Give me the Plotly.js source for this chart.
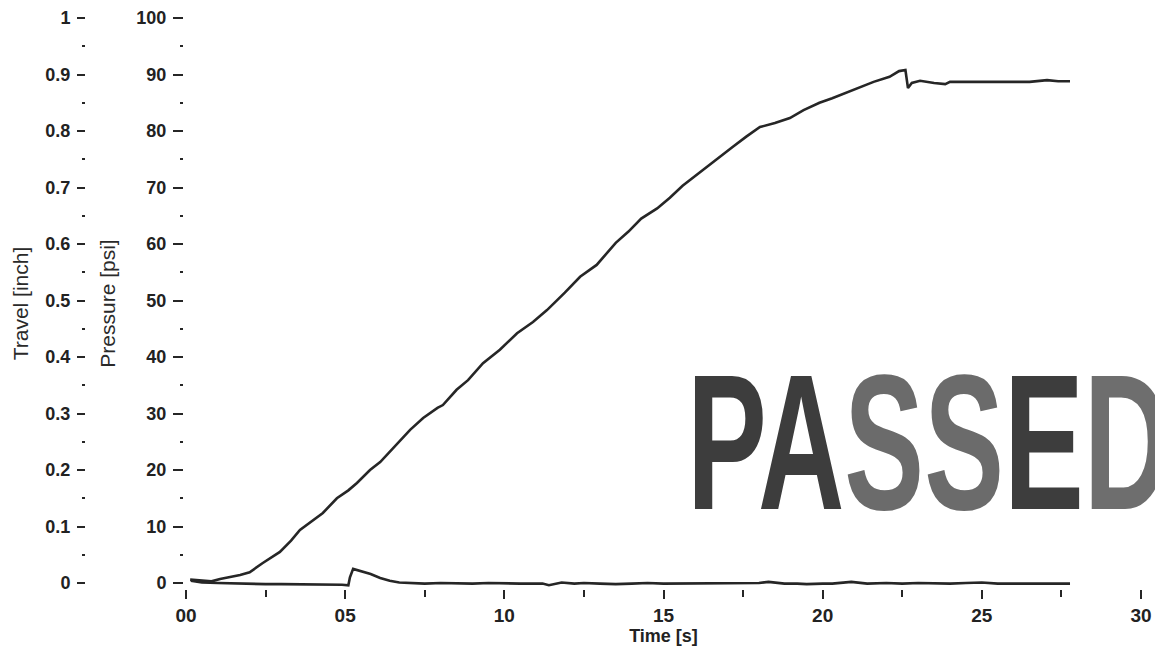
<!DOCTYPE html>
<html>
<head>
<meta charset="utf-8">
<script src="https://cdn.plot.ly/plotly-3.0.1.min.js"></script>
<style>
  html, body { margin: 0; padding: 0; background: #fff; }
  #chart { width: 1155px; height: 658px; }
  .annotation-text { transform-box: fill-box; transform-origin: left center; transform: scaleX(0.62); }
</style>
</head>
<body>
<div id="chart"></div>
<script>
// ---- data ----
const pressureTime = [0.13, 0.5, 0.8, 1.07, 1.4, 1.7, 2.0, 2.4, 2.95, 3.3, 3.58, 4.0, 4.3, 4.74, 5.1, 5.37, 5.78, 6.1, 6.4, 6.7, 7.04, 7.45, 7.9, 8.07, 8.5, 8.86, 9.33, 9.86, 10.4, 10.9, 11.34, 11.9, 12.38, 12.9, 13.5, 13.9, 14.3, 14.8, 15.2, 15.6, 16.1, 16.6, 17.18, 17.6, 18.03, 18.5, 18.97, 19.4, 19.9, 20.3, 20.77, 21.2, 21.6, 22.1, 22.4, 22.6, 22.68, 22.8, 23.06, 23.5, 23.85, 24.0, 24.94, 25.7, 26.5, 27.05, 27.4, 27.77];
const pressurePsi  = [0.6, 0.4, 0.3, 0.7, 1.0, 1.4, 1.9, 3.5, 5.5, 7.5, 9.4, 11.2, 12.4, 15.0, 16.4, 17.7, 20.0, 21.4, 23.2, 25.0, 27.1, 29.2, 31.0, 31.5, 34.2, 35.9, 38.9, 41.3, 44.2, 46.2, 48.3, 51.4, 54.2, 56.3, 60.2, 62.2, 64.5, 66.3, 68.2, 70.3, 72.5, 74.8, 77.2, 79.0, 80.7, 81.4, 82.3, 83.7, 85.0, 85.8, 86.9, 87.8, 88.7, 89.6, 90.6, 90.8, 87.6, 88.5, 88.9, 88.5, 88.3, 88.7, 88.7, 88.7, 88.7, 89.0, 88.8, 88.8];

const travelTime = [0.15, 0.5, 1.0, 1.5, 2.0, 2.5, 3.0, 3.5, 4.0, 4.3, 4.6, 4.9, 5.1, 5.15, 5.25, 5.5, 5.8, 6.1, 6.4, 6.7, 7.0, 7.5, 8.0, 8.5, 9.0, 9.5, 10.0, 10.5, 11.0, 11.2, 11.4, 11.6, 11.8, 12.2, 12.5, 13.0, 13.5, 14.0, 14.5, 15.0, 15.5, 16.0, 16.5, 17.0, 17.5, 18.0, 18.3, 18.8, 19.2, 19.5, 20.0, 20.3, 20.9, 21.4, 22.0, 22.5, 23.0, 23.5, 24.0, 24.5, 25.0, 25.5, 26.0, 26.5, 27.0, 27.4, 27.77];
const travelInch = [0.004, 0.001, 0.0, -0.001, -0.001, -0.002, -0.002, -0.002, -0.002, -0.003, -0.002, -0.003, -0.004, 0.010, 0.025, 0.021, 0.016, 0.009, 0.004, 0.001, 0.0, -0.001, 0.0, -0.001, -0.001, 0.0, -0.001, -0.001, -0.001, -0.001, -0.004, -0.001, 0.001, -0.001, 0.0, -0.001, -0.002, -0.001, 0.0, -0.001, -0.001, 0.0, -0.001, -0.001, -0.001, 0.0, 0.002, -0.001, -0.001, -0.002, -0.001, -0.001, 0.002, -0.001, 0.0, -0.001, 0.0, -0.001, -0.001, 0.0, 0.001, -0.001, -0.001, 0.0, 0.0, -0.001, -0.001];

const timeTickVals = [0, 5, 10, 15, 20, 25, 30];
const timeTickText = ['00', '05', '10', '15', '20', '25', '30'];
const pressureTickVals = [0, 10, 20, 30, 40, 50, 60, 70, 80, 90, 100];
const travelTickVals = [0, 0.1, 0.2, 0.3, 0.4, 0.5, 0.6, 0.7, 0.8, 0.9, 1];
const travelTickText = ['0', '0.1', '0.2', '0.3', '0.4', '0.5', '0.6', '0.7', '0.8', '0.9', '1'];

// ---- layout geometry (pixels) ----
const W = 1155, H = 658, ML = 10, MR = 14, MT = 18, MB = 69;
const plotW = W - ML - MR;
const px = (p) => (p - ML) / plotW;
const py = (p) => (H - MB - p) / (H - MT - MB);

const ink = '#262626';
const tickFont = { family: 'Liberation Sans, Arial, sans-serif', size: 18, color: '#222', weight: 'bold' };
const titleFont = { family: 'Liberation Sans, Arial, sans-serif', size: 21, color: '#2a2a2a' };

const traces = [
  { x: pressureTime, y: pressurePsi, type: 'scatter', mode: 'lines', name: 'Pressure',
    line: { color: ink, width: 2.6 }, xaxis: 'x', yaxis: 'y', hoverinfo: 'skip' },
  { x: travelTime, y: travelInch, type: 'scatter', mode: 'lines', name: 'Travel',
    line: { color: ink, width: 2.6 }, xaxis: 'x', yaxis: 'y2', hoverinfo: 'skip' }
];

const layout = {
  width: W, height: H,
  margin: { l: ML, r: MR, t: MT, b: MB, pad: 0 },
  paper_bgcolor: '#fff', plot_bgcolor: '#fff',
  showlegend: false,
  xaxis: {
    domain: [px(186), 1], range: [0, 30],
    showgrid: false, zeroline: false, showline: false,
    tickmode: 'array', tickvals: timeTickVals, ticktext: timeTickText,
    ticks: 'outside', ticklen: 9, tickwidth: 2, tickcolor: ink,
    minor: { dtick: 2.5, ticks: 'outside', ticklen: 7, tickwidth: 2, tickcolor: ink },
    tickfont: { family: 'Liberation Sans, Arial, sans-serif', size: 19, color: '#222', weight: 'bold' },
    title: { text: 'Time [s]', font: { family: 'Liberation Sans, Arial, sans-serif', size: 18, color: '#222', weight: 'bold' }, standoff: 4 }
  },
  yaxis: {
    range: [-1.06, 100], anchor: 'free', position: px(183), side: 'left',
    showgrid: false, zeroline: false, showline: false,
    tickmode: 'array', tickvals: pressureTickVals,
    ticks: 'outside', ticklen: 10, tickwidth: 2, tickcolor: ink, ticklabelstandoff: 3,
    minor: { tickvals: [5, 15, 25, 35, 45, 55, 65, 75, 85, 95], ticks: 'outside', ticklen: 3, tickwidth: 2, tickcolor: ink },
    tickfont: tickFont,
    title: { text: 'Pressure [psi]', font: titleFont, standoff: 14 }
  },
  yaxis2: {
    range: [-0.0106, 1.0], overlaying: 'y', anchor: 'free', position: px(85), side: 'left',
    showgrid: false, zeroline: false, showline: false,
    tickmode: 'array', tickvals: travelTickVals, ticktext: travelTickText,
    ticks: 'outside', ticklen: 8, tickwidth: 2, tickcolor: ink, ticklabelstandoff: 3,
    minor: { tickvals: [0.05, 0.15, 0.25, 0.35, 0.45, 0.55, 0.65, 0.75, 0.85, 0.95], ticks: 'outside', ticklen: 3, tickwidth: 2, tickcolor: ink },
    tickfont: tickFont,
    title: { text: 'Travel [inch]', font: titleFont, standoff: 10 }
  },
  annotations: [{
    xref: 'paper', yref: 'paper', x: px(685), y: py(443), xanchor: 'left', yanchor: 'middle',
    showarrow: false,
    text: '<span style="color:#3d3d3d">PA</span><span style="color:#6b6b6b">SS</span><span style="color:#3d3d3d">E</span><span style="color:#6e6e6e">D</span>',
    font: { family: 'Liberation Sans, Arial, sans-serif', size: 193, color: '#4a4a4a', weight: 'bold' }
  }]
};

Plotly.newPlot('chart', traces, layout, { staticPlot: true, displayModeBar: false });
</script>
</body>
</html>
